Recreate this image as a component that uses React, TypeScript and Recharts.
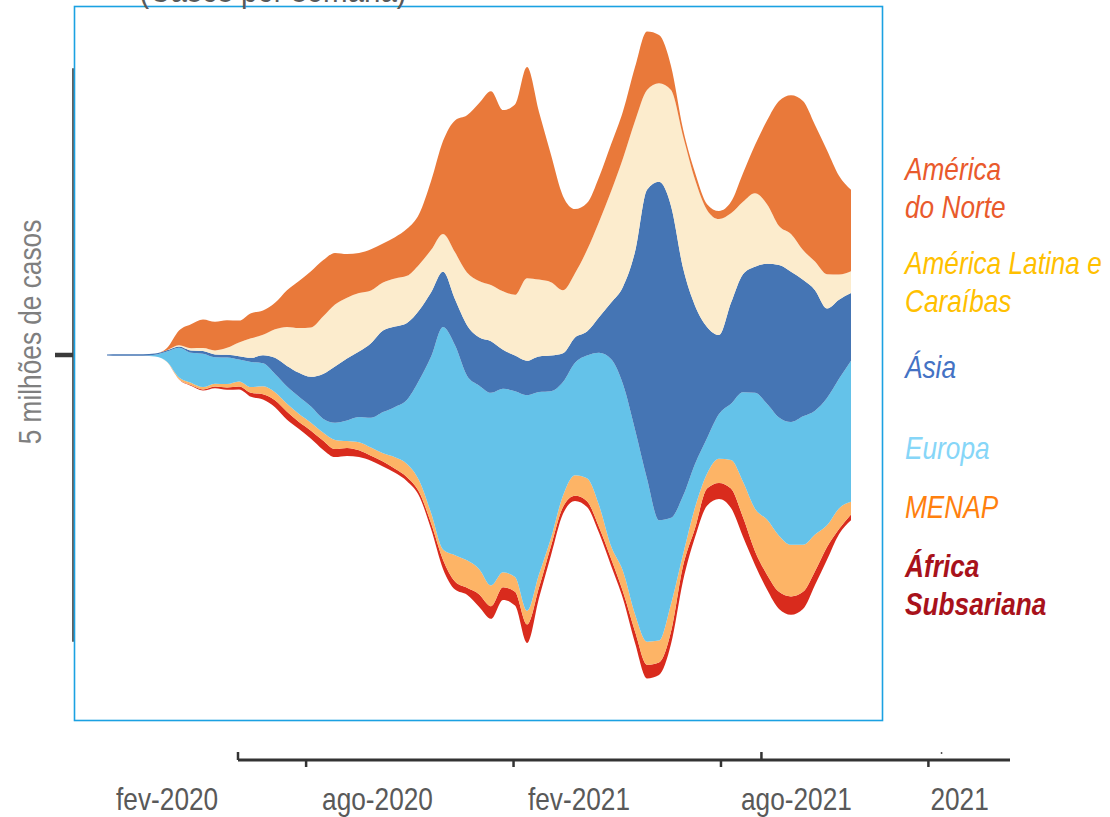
import { AreaChart, Area, XAxis, YAxis, ReferenceLine, LineChart } from 'recharts'

// 10-day steps, Jan 2020 - Oct 2021
const dates = [
  '2020-01-22', '2020-02-01', '2020-02-11', '2020-02-21', '2020-03-02', '2020-03-12', '2020-03-22',
  '2020-04-01', '2020-04-11', '2020-04-21', '2020-05-01', '2020-05-11', '2020-05-21', '2020-05-31',
  '2020-06-10', '2020-06-20', '2020-06-30', '2020-07-10', '2020-07-20', '2020-07-30', '2020-08-09',
  '2020-08-19', '2020-08-29', '2020-09-08', '2020-09-18', '2020-09-28', '2020-10-08', '2020-10-18',
  '2020-10-28', '2020-11-07', '2020-11-17', '2020-11-27', '2020-12-07', '2020-12-17', '2020-12-27',
  '2021-01-06', '2021-01-16', '2021-01-26', '2021-02-05', '2021-02-15', '2021-02-25', '2021-03-07',
  '2021-03-17', '2021-03-27', '2021-04-06', '2021-04-16', '2021-04-26', '2021-05-06', '2021-05-16',
  '2021-05-26', '2021-06-05', '2021-06-15', '2021-06-25', '2021-07-05', '2021-07-15', '2021-07-25',
  '2021-08-04', '2021-08-14', '2021-08-24', '2021-09-03', '2021-09-13', '2021-09-23', '2021-10-03',
]

// weekly cases, millions
const northAmerica = [
  0, 0, 0, 0, 0, 0.02, 0.13, 0.21, 0.25, 0.25, 0.24, 0.19, 0.22, 0.21, 0.23, 0.32, 0.41, 0.49, 0.49, 0.45,
  0.38, 0.35, 0.36, 0.34, 0.36, 0.41, 0.44, 0.6, 0.81, 1.15, 1.37, 1.55, 1.69, 1.58, 1.66, 1.84, 1.46, 1.11,
  0.82, 0.56, 0.41, 0.39, 0.41, 0.41, 0.47, 0.51, 0.42, 0.21, 0.06, 0.06, 0.05, 0.07, 0.1, 0.25, 0.42, 0.73,
  1.09, 1.21, 1.3, 1.19, 1.08, 0.86, 0.71,
]
const latinAmerica = [
  0, 0, 0, 0, 0, 0, 0.01, 0.02, 0.025, 0.035, 0.06, 0.12, 0.17, 0.18, 0.25, 0.34, 0.39, 0.43, 0.5, 0.54,
  0.53, 0.51, 0.46, 0.42, 0.42, 0.41, 0.4, 0.37, 0.33, 0.41, 0.46, 0.49, 0.49, 0.51, 0.53, 0.72, 0.67, 0.64,
  0.55, 0.56, 0.71, 0.83, 0.97, 1.12, 1.14, 0.87, 0.86, 1.01, 1.15, 1.1, 1.02, 1.01, 0.78, 0.63, 0.64, 0.52,
  0.34, 0.33, 0.26, 0.25, 0.3, 0.22, 0.19,
]
const asia = [
  0.01, 0.015, 0.012, 0.012, 0.01, 0.01, 0.01, 0.02, 0.025, 0.025, 0.025, 0.03, 0.035, 0.07, 0.14, 0.18,
  0.21, 0.26, 0.39, 0.49, 0.54, 0.57, 0.65, 0.71, 0.7, 0.67, 0.61, 0.56, 0.48, 0.4, 0.44, 0.42, 0.45, 0.34,
  0.31, 0.3, 0.31, 0.31, 0.25, 0.22, 0.21, 0.31, 0.49, 0.85, 1.55, 2.52, 2.95, 2.72, 1.99, 1.38, 0.97, 0.69,
  0.88, 1.03, 1.1, 1.22, 1.33, 1.31, 1.19, 1.05, 0.78, 0.69, 0.59,
]
const europe = [
  0, 0, 0, 0, 0.015, 0.09, 0.26, 0.26, 0.29, 0.23, 0.23, 0.19, 0.22, 0.2, 0.16, 0.15, 0.15, 0.14, 0.12,
  0.15, 0.18, 0.22, 0.26, 0.36, 0.44, 0.56, 0.87, 1.36, 1.94, 1.83, 1.61, 1.6, 1.68, 1.6, 1.62, 1.88, 1.59,
  1.28, 0.99, 0.98, 1.07, 1.33, 1.63, 1.63, 1.61, 1.42, 1.05, 0.75, 0.51, 0.38, 0.31, 0.39, 0.49, 0.78, 1.01,
  1.01, 1.03, 1.07, 1.12, 1.08, 1.11, 1.13, 1.23,
]
const menap = [
  0, 0, 0, 0, 0, 0.003, 0.015, 0.02, 0.02, 0.025, 0.03, 0.045, 0.05, 0.07, 0.07, 0.07, 0.07, 0.07, 0.07,
  0.08, 0.06, 0.07, 0.07, 0.07, 0.1, 0.115, 0.1, 0.09, 0.09, 0.23, 0.24, 0.22, 0.18, 0.13, 0.13, 0.12, 0.115,
  0.07, 0.1, 0.18, 0.2, 0.19, 0.11, 0.18, 0.15, 0.2, 0.19, 0.24, 0.1, 0.18, 0.13, 0.21, 0.25, 0.31, 0.37,
  0.48, 0.49, 0.45, 0.41, 0.32, 0.19, 0.18, 0.11,
]
const subSaharanAfrica = [
  0, 0, 0, 0, 0, 0, 0.003, 0.008, 0.01, 0.015, 0.02, 0.025, 0.035, 0.045, 0.06, 0.07, 0.06, 0.07, 0.08,
  0.07, 0.07, 0.06, 0.045, 0.045, 0.035, 0.035, 0.035, 0.05, 0.08, 0.07, 0.06, 0.11, 0.11, 0.11, 0.12, 0.16,
  0.09, 0.08, 0.06, 0.045, 0.05, 0.05, 0.06, 0.06, 0.1, 0.12, 0.11, 0.11, 0.13, 0.08, 0.15, 0.14, 0.17, 0.17,
  0.12, 0.13, 0.15, 0.16, 0.15, 0.12, 0.11, 0.045, 0.05,
]

// bottom time axis (months from jan-2020)
const axisMonths = [-0.97, 1, 7, 13, 14.17, 19, 19.38]
const axisLabels = ['', 'fev-2020', 'ago-2020', 'fev-2021', '', 'ago-2021', '2021']

const FONT = "'Liberation Sans', Arial, sans-serif"
const NARROW = 0.82 // no narrow font installed, squeeze the regular one

// stacked bottom -> top
const series = [
  { key: 'africa', name: 'África Subsariana', fill: '#D92B1D' },
  { key: 'menap', name: 'MENAP', fill: '#FDB466' },
  { key: 'europe', name: 'Europa', fill: '#64C2E9' },
  { key: 'asia', name: 'Ásia', fill: '#4575B4' },
  { key: 'latam', name: 'América Latina e Caraíbas', fill: '#FCECCD' },
  { key: 'northAmerica', name: 'América do Norte', fill: '#E9793A' },
]

const data = dates.map((date, i) => ({
  idx: i,
  date,
  northAmerica: northAmerica[i],
  latam: latinAmerica[i],
  asia: asia[i],
  europe: europe[i],
  menap: menap[i],
  africa: subSaharanAfrica[i],
}))

const legend = [
  { lines: ['América', 'do Norte'], color: '#E95A2C', y: [180, 218] },
  { lines: ['América Latina e', 'Caraíbas'], color: '#FFC000', y: [274, 312] },
  { lines: ['Ásia'], color: '#4472C4', y: [378] },
  { lines: ['Europa'], color: '#86D6F8', y: [459] },
  { lines: ['MENAP'], color: '#FF800E', y: [518] },
  { lines: ['África', 'Subsariana'], color: '#A8121B', y: [577, 615], bold: true },
]

const X_MIN = -34 / 12
const X_MAX = 62 + 32 / 12

function NarrowText({ x, y, rotate = 0, children, ...rest }: any) {
  return (
    <text transform={`translate(${x} ${y}) rotate(${rotate}) scale(${NARROW} 1)`} fontFamily={FONT} {...rest}>
      {children}
    </text>
  )
}

function YLabel(props: any) {
  const vb = props.viewBox || { x: 13 }
  return (
    <NarrowText x={vb.x + 27.5} y={332} rotate={-90} textAnchor="middle" fontSize={32} fill="#7f7f7f">
      5 milhões de casos
    </NarrowText>
  )
}

const markKind = ['up', 'down', 'down', 'down', 'up', 'down', 'dot']
const labelShift = [0, -139, -136, -142, 0, -132, 18]

function BottomTick(props: any) {
  const { x, y, index } = props
  const kind = markKind[index]
  return (
    <g>
      {kind === 'down' && <line x1={x} y1={y} x2={x} y2={y + 7} stroke="#333" strokeWidth={2.5} />}
      {kind === 'up' && <line x1={x} y1={y - 8} x2={x} y2={y} stroke="#333" strokeWidth={2.5} />}
      {kind === 'dot' && <line x1={x} y1={y - 8} x2={x} y2={y - 6} stroke="#555" strokeWidth={1.5} />}
      {axisLabels[index] && (
        <NarrowText x={x + labelShift[index]} y={y + 50} textAnchor="middle" fontSize={32} fill="#595959">
          {axisLabels[index]}
        </NarrowText>
      )}
    </g>
  )
}

export default function App() {
  return (
    <div style={{ position: 'absolute', left: 0, top: 0, width: 1110, height: 817, background: '#fff', overflow: 'hidden' }}>
      <div style={{ position: 'absolute', left: 0, top: 0 }}>
        <AreaChart width={1110} height={817} data={data} stackOffset="silhouette"
          margin={{ top: 5, right: 227, bottom: 98, left: 13 }}>
          <XAxis dataKey="idx" type="number" domain={[X_MIN, X_MAX]} allowDataOverflow hide />
          <YAxis width={60} domain={[-3.1735, 3.0514]} allowDataOverflow ticks={[0]} tickFormatter={() => ''}
            axisLine={false} tickSize={18} tickLine={{ stroke: '#3a3a3a', strokeWidth: 4.5 }}
            label={<YLabel />} />
          <ReferenceLine segment={[{ x: X_MIN, y: -2.5 }, { x: X_MIN, y: 2.5 }]} stroke="#3a3a3a" strokeWidth={1.6} ifOverflow="visible" />
          {series.map((s) => (
            <Area key={s.key} dataKey={s.key} name={s.name} stackId="1" type="monotone"
              fill={s.fill} fillOpacity={1} stroke="none" isAnimationActive={false} />
          ))}
        </AreaChart>
      </div>
      <div style={{ position: 'absolute', left: 0, top: 700 }}>
        <LineChart width={1110} height={117} data={axisMonths.map((m) => ({ m }))}
          margin={{ top: 0, right: 100, bottom: 0, left: 238 }}>
          <XAxis dataKey="m" type="number" domain={[-0.97, 21.36]} allowDataOverflow ticks={axisMonths}
            interval={0} height={57} tickSize={0} tickMargin={0} tickLine={false}
            axisLine={{ stroke: '#333', strokeWidth: 3 }} tick={<BottomTick />} />
        </LineChart>
      </div>
      <svg width={1110} height={817} style={{ position: 'absolute', left: 0, top: 0, pointerEvents: 'none' }}>
        <rect x={74.5} y={6.5} width={808} height={714} fill="none" stroke="#1BA1E2" strokeWidth={1.6} />
        <NarrowText x={273} y={2} textAnchor="middle" fontSize={36} fill="#595959">(Casos por semana)</NarrowText>
        {legend.map((item) =>
          item.lines.map((line, j) => (
            <NarrowText key={line} x={905} y={item.y[j]} fontSize={32} fontStyle="italic"
              fontWeight={item.bold ? 700 : 400} fill={item.color}>
              {line}
            </NarrowText>
          ))
        )}
      </svg>
    </div>
  )
}
